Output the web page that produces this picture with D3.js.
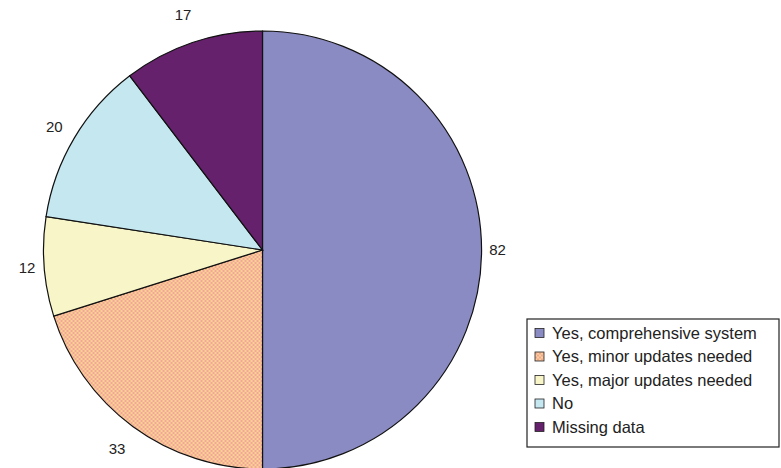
<!DOCTYPE html>
<html lang="en">
<head>
    <meta charset="UTF-8">
    <title>Pie</title>
    <script src="https://cdn.jsdelivr.net/npm/d3@7/dist/d3.min.js"></script>
</head>
<style>
    body { margin: 0; background: #fff; }
    svg { display: block; font-family: "Liberation Sans", Arial, sans-serif; }
</style>
<body>
</body>
</html>
<script>

    // answers, in the order they go round the pie (clockwise from 12 o'clock)
    var categories = ["Yes, comprehensive system", "Yes, minor updates needed",
                      "Yes, major updates needed", "No", "Missing data"];
    var counts = [82, 33, 12, 20, 17];
    var colors = ["#8b8bc4", "url(#hatch)", "#f8f5c8", "#c4e7f0", "#65216b"];

    var w = 781;
    var h = 468;
    var cx = 262.5, cy = 250, r = 219;

    var svg = d3.select("body")
            .append("svg")
            .attr("width", w)
            .attr("height", h);

    // fine checker texture for the orange slice
    var pat = svg.append("defs").append("pattern")
            .attr("id", "hatch")
            .attr("patternUnits", "userSpaceOnUse")
            .attr("width", 4).attr("height", 4);
    pat.append("rect").attr("width", 4).attr("height", 4).attr("fill", "#f9d28f");
    pat.append("rect").attr("width", 2).attr("height", 2).attr("fill", "#f2a59c");
    pat.append("rect").attr("x", 2).attr("y", 2).attr("width", 2).attr("height", 2).attr("fill", "#f2a59c");

    var pie = d3.pie().sort(null).value(function (d) { return d; });
    var arcs = pie(counts);
    var arc = d3.arc().innerRadius(0).outerRadius(r);

    var g = svg.append("g").attr("transform", "translate(" + cx + "," + cy + ")");

    g.selectAll("path")
            .data(arcs)
            .enter()
            .append("path")
            .attr("d", arc)
            .attr("fill", function (d, i) { return colors[i]; })
            .attr("stroke", "#111")
            .attr("stroke-width", 1.2);

    // value labels sit just outside the rim, a bit further out near top/bottom
    function labelPos(d) {
        var a = (d.startAngle + d.endAngle) / 2;
        var R = r + 16 + 14 * Math.abs(Math.cos(a));
        return [R * Math.sin(a), -R * Math.cos(a)];
    }

    g.selectAll("text")
            .data(arcs)
            .enter()
            .append("text")
            .text(function (d) { return d.data; })
            .attr("x", function (d) { return labelPos(d)[0]; })
            .attr("y", function (d) { return labelPos(d)[1]; })
            .attr("dy", "0.35em")
            .attr("text-anchor", "middle")
            .attr("font-size", "15px")
            .attr("fill", "#222");

    // legend
    var lx = 527, ly = 319, lw = 252, lh = 128, rowH = 23.5;
    var legend = svg.append("g");
    legend.append("rect")
            .attr("x", lx).attr("y", ly)
            .attr("width", lw).attr("height", lh)
            .attr("fill", "#fff")
            .attr("stroke", "#222")
            .attr("stroke-width", 1.2);

    var rows = legend.selectAll("g.row")
            .data(categories)
            .enter()
            .append("g")
            .attr("class", "row")
            .attr("transform", function (d, i) {
                return "translate(" + (lx + 8) + "," + (ly + 14 + i * rowH) + ")";
            });

    rows.append("rect")
            .attr("x", 0).attr("y", -4.5)
            .attr("width", 9).attr("height", 9)
            .attr("fill", function (d, i) { return colors[i]; })
            .attr("stroke", "#222")
            .attr("stroke-width", 0.8);

    rows.append("text")
            .attr("x", 17)
            .attr("dy", "0.35em")
            .attr("font-size", "16.5px")
            .attr("fill", "#222")
            .text(function (d) { return d; });
</script>
